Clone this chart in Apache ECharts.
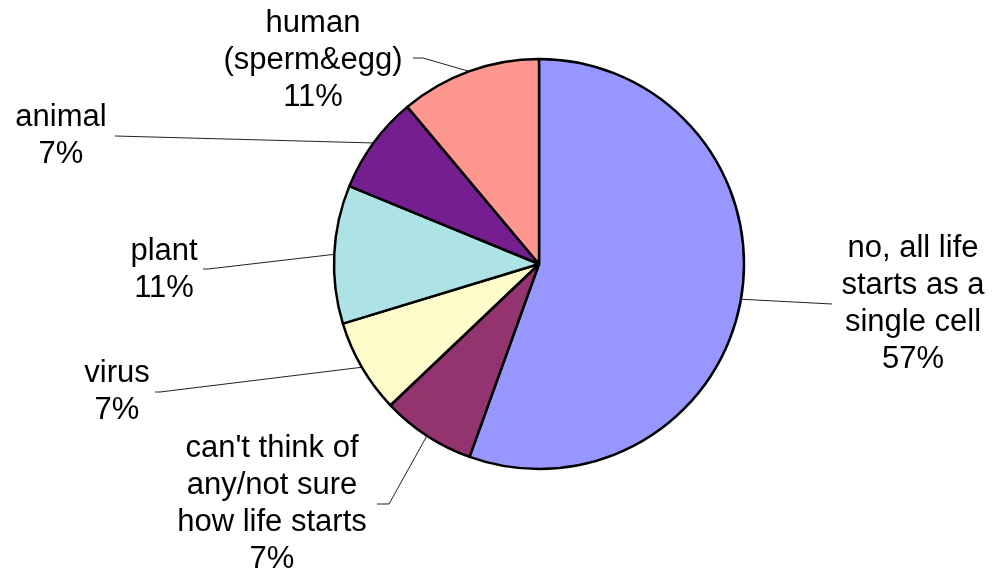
<!DOCTYPE html>
<html>
<head>
<meta charset="utf-8">
<script src="https://cdn.jsdelivr.net/npm/echarts@6/dist/echarts.min.js"></script>
<style>
html,body{margin:0;padding:0;background:#fff;}
#c{width:995px;height:576px;}
</style>
</head>
<body>
<div id="c"></div>
<script>
// Categories (clockwise from 12 o'clock)
const categories = [
  'no, all life\nstarts as a\nsingle cell',
  "can't think of\nany/not sure\nhow life starts",
  'virus',
  'plant',
  'animal',
  'human\n(sperm&egg)'
];
// Slice sizes as drawn (share of the circle, %)
const values = [55.5, 7.4, 7.4, 10.9, 7.7, 11.1];
// Percent labels as printed on the chart
const pctLabels = ['57%', '7%', '7%', '11%', '7%', '11%'];
const colors = ['#9797FF', '#933370', '#FFFCCC', '#AEE3E6', '#741E90', '#FF9791'];

// label layout (text block centre and leader-line path), pixels
const labelLayouts = [
  {x: 913, y: 304, line: [[832, 304]]},
  {x: 272, y: 504, line: [[389, 504], [377, 504]]},
  {x: 117, y: 392, line: [[160, 392], [155, 392]]},
  {x: 164, y: 270, line: [[208, 269], [203, 269]]},
  {x: 61,  y: 136, line: [[115, 136]]},
  {x: 313, y: 60,  line: [[423, 58], [413, 58]]}
];

const chart = echarts.init(document.getElementById('c'), null, {renderer: 'canvas'});
chart.setOption({
  animation: false,
  backgroundColor: '#ffffff',
  series: [{
    type: 'pie',
    center: [539, 264],
    radius: [0, 205],
    startAngle: 90,
    clockwise: true,
    avoidLabelOverlap: false,
    data: categories.map((c, i) => ({name: c, value: values[i], itemStyle: {color: colors[i]}})),
    itemStyle: {borderColor: '#000', borderWidth: 2.5},
    emphasis: {disabled: true},
    label: {
      show: true,
      position: 'outside',
      formatter: p => p.name + '\n' + pctLabels[p.dataIndex],
      color: '#000',
      fontFamily: '"Liberation Sans", Arial, sans-serif',
      fontSize: 31,
      lineHeight: 37,
      align: 'center'
    },
    labelLine: {
      show: true,
      length: 20,
      length2: 20,
      lineStyle: {color: '#222', width: 1}
    },
    labelLayout: function (params) {
      const l = labelLayouts[params.dataIndex];
      const start = params.labelLinePoints ? params.labelLinePoints[0] : null;
      const pts = start ? [start].concat(l.line) : null;
      const res = {x: l.x, y: l.y, align: 'center', verticalAlign: 'middle'};
      if (pts) res.labelLinePoints = pts;
      return res;
    }
  }]
});
</script>
</body>
</html>
